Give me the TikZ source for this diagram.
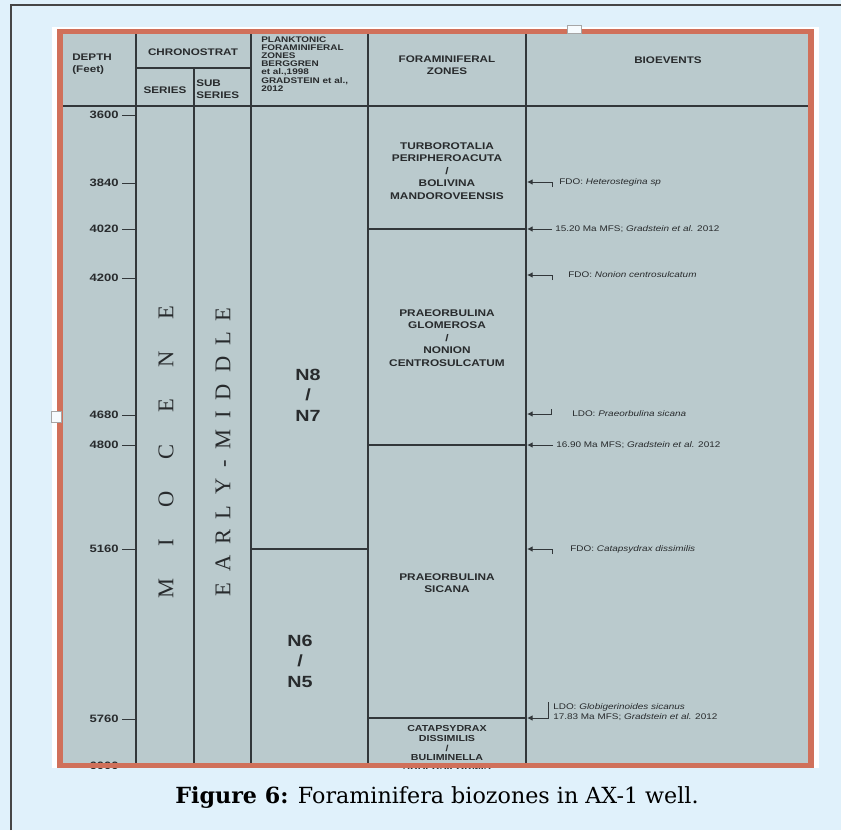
\documentclass[tikz,border=0pt]{standalone}
\usepackage{fontspec}
\usetikzlibrary{arrows.meta, positioning}
\newfontfamily\tabfont{Liberation Sans}[FakeStretch=1.22]
\newfontfamily\letterfont{Liberation Serif}
\newfontfamily\capfont{DejaVu Serif}
\definecolor{pagebg}{RGB}{224,241,251}
\definecolor{framecol}{RGB}{70,70,70}
\definecolor{chartbg}{RGB}{186,202,205}
\definecolor{rimcol}{RGB}{208,112,90}
\definecolor{gridcol}{RGB}{50,55,58}
\definecolor{inkcol}{RGB}{40,43,45}
\tikzset{
  gridline/.style={gridcol, line width=0.9pt},
  tickline/.style={gridcol, line width=0.7pt},
  evarrow/.style={-{Latex[length=4pt,width=4pt]}, gridcol, line width=0.7pt},
  headtext/.style={
    font=\tabfont\bfseries\fontsize{6.8}{8.6}\selectfont, text=inkcol,
    align=center, inner sep=0pt
  },
  smallhead/.style={
    font=\tabfont\bfseries\fontsize{5.8}{5.8}\selectfont, text=inkcol,
    align=left, inner sep=0pt, anchor=west
  },
  zonetext/.style={
    font=\tabfont\bfseries\fontsize{6.9}{8.9}\selectfont, text=inkcol,
    align=center, inner sep=0pt
  },
  nzone/.style={
    font=\tabfont\bfseries\fontsize{11.5}{14.6}\selectfont, text=inkcol,
    align=center, inner sep=0pt
  },
  depthlabel/.style={
    font=\tabfont\bfseries\fontsize{7.6}{9}\selectfont, text=inkcol,
    anchor=east, inner sep=0pt
  },
  eventtext/.style={
    font=\tabfont\fontsize{5.8}{6.6}\selectfont, text=inkcol,
    align=left, anchor=west, inner sep=0pt
  },
  stackletters/.style={
    font=\letterfont\fontsize{16}{16}\selectfont, text=inkcol,
    rotate=90, inner sep=0pt
  },
  handlebox/.style={draw=gray!70, fill=white!70!pagebg, line width=0.4pt},
}
\begin{document}
\begin{tikzpicture}[x=0.025cm, y=-0.025cm]
  \useasboundingbox (0,0) rectangle (841,830);

  % ── Page ──
  \fill[pagebg] (0,0) rectangle (841,830);
  \draw[framecol, line width=0.9pt] (11,830) -- (11,5) -- (841,5);

  % ── Chart panel ──
  \fill[white] (52,27) rectangle (819,768);
  \fill[chartbg] (58,30) rectangle (812,768);

  \begin{scope}
    \clip (58,30) rectangle (812,768);

    % ── Grid ──
    \draw[gridline] (136,33) -- (136,768);
    \draw[gridline] (194,68) -- (194,768);
    \draw[gridline] (251,33) -- (251,768);
    \draw[gridline] (368,33) -- (368,768);
    \draw[gridline] (526,33) -- (526,768);
    \draw[gridline] (136,68) -- (251,68);
    \draw[gridline] (63,106) -- (809,106);
    \draw[gridline] (251,549) -- (368,549);
    \draw[gridline] (368,229) -- (526,229);
    \draw[gridline] (368,445) -- (526,445);
    \draw[gridline] (368,718) -- (526,718);

    % ── Header ──
    \node[headtext, align=left, anchor=west] (depthhead) at (72,64) {DEPTH\\(Feet)};
    \node[headtext] (chronohead) at (193,52) {CHRONOSTRAT};
    \node[headtext] (serieshead) at (165,90) {SERIES};
    \node[headtext, align=left, anchor=west] (subhead) at (196,89) {SUB\\SERIES};
    \node[smallhead] (planktohead) at (261,64)
      {PLANKTONIC\\FORAMINIFERAL\\ZONES\\BERGGREN\\et al.,1998\\GRADSTEIN et al.,\\2012};
    \node[headtext] (zonehead) at (447,65) {FORAMINIFERAL\\ZONES};
    \node[headtext] (eventhead) at (668,60) {BIOEVENTS};

    % ── Depth scale ──
    \node[depthlabel] (d3600) at (119,115) {3600};
    \node[depthlabel] (d3840) at (119,183) {3840};
    \node[depthlabel] (d4020) at (119,229) {4020};
    \node[depthlabel] (d4200) at (119,278) {4200};
    \node[depthlabel] (d4680) at (119,415) {4680};
    \node[depthlabel] (d4800) at (119,445) {4800};
    \node[depthlabel] (d5160) at (119,549) {5160};
    \node[depthlabel] (d5760) at (119,719) {5760};
    \node[depthlabel] (d6000) at (119,766) {6000};
    \draw[tickline] (d3600.east) ++(3,0) -- ++(14,0);
    \draw[tickline] (d3840.east) ++(3,0) -- ++(14,0);
    \draw[tickline] (d4020.east) ++(3,0) -- ++(14,0);
    \draw[tickline] (d4200.east) ++(3,0) -- ++(14,0);
    \draw[tickline] (d4680.east) ++(3,0) -- ++(14,0);
    \draw[tickline] (d4800.east) ++(3,0) -- ++(14,0);
    \draw[tickline] (d5160.east) ++(3,0) -- ++(14,0);
    \draw[tickline] (d5760.east) ++(3,0) -- ++(14,0);
    \draw[tickline] (d6000.east) ++(3,0) -- ++(14,0);

    % ── Series / sub series ──
    \node[stackletters] (series) at (166,452)
      {M\hspace{1.41em}I\hspace{1.41em}O\hspace{1.41em}C\hspace{1.41em}E\hspace{1.41em}N\hspace{1.41em}E};
    \node[stackletters] (subseries) at (223,452)
      {E\hspace{0.48em}A\hspace{0.48em}R\hspace{0.48em}L\hspace{0.48em}Y\hspace{0.48em}-\hspace{0.48em}M\hspace{0.48em}I\hspace{0.48em}D\hspace{0.48em}D\hspace{0.48em}L\hspace{0.48em}E};

    % ── Planktonic zones ──
    \node[nzone] (n8n7) at (308,395) {N8\\/\\N7};
    \node[nzone] (n6n5) at (300,661) {N6\\/\\N5};

    % ── Foraminiferal zones ──
    \node[zonetext] (zoneA) at (447,171)
      {TURBOROTALIA\\PERIPHEROACUTA\\/\\BOLIVINA\\MANDOROVEENSIS};
    \node[zonetext] (zoneB) at (447,338)
      {PRAEORBULINA\\GLOMEROSA\\/\\NONION\\CENTROSULCATUM};
    \node[zonetext] (zoneC) at (447,583) {PRAEORBULINA\\SICANA};
    \node[zonetext, font=\tabfont\bfseries\fontsize{6.2}{7.1}\selectfont] (zoneD) at (447,748)
      {CATAPSYDRAX\\DISSIMILIS\\/\\BULIMINELLA\\SUBFUSIFORMIS};

    % ── Bioevents ──
    \coordinate (e3840) at (527,182);
    \coordinate (e4020) at (527,229);
    \coordinate (e4200) at (527,275);
    \coordinate (e4680) at (527,414);
    \coordinate (e4800) at (527,445);
    \coordinate (e5160) at (527,549);
    \coordinate (e5760) at (527,718);

    \node[eventtext] (ev3840) at (559,182) {FDO: \textit{Heterostegina sp}};
    \node[eventtext] (ev4020) at (555,229) {15.20 Ma MFS; \textit{Gradstein et al.} 2012};
    \node[eventtext] (ev4200) at (568,275) {FDO: \textit{Nonion centrosulcatum}};
    \node[eventtext] (ev4680) at (572,414) {LDO: \textit{Praeorbulina sicana}};
    \node[eventtext] (ev4800) at (556,445) {16.90 Ma MFS; \textit{Gradstein et al.} 2012};
    \node[eventtext] (ev5160) at (570,549) {FDO: \textit{Catapsydrax dissimilis}};
    \node[eventtext] (ev5760) at (553,712)
      {LDO: \textit{Globigerinoides sicanus}\\17.83 Ma MFS; \textit{Gradstein et al.} 2012};

    \draw[evarrow] ([shift={(25,5)}]e3840) |- (e3840);
    \draw[evarrow] ([xshift=-2pt]ev4020.west) -- (e4020);
    \draw[evarrow] ([shift={(25,5)}]e4200) |- (e4200);
    \draw[evarrow] ([shift={(24,-5)}]e4680) |- (e4680);
    \draw[evarrow] ([xshift=-2pt]ev4800.west) -- (e4800);
    \draw[evarrow] ([shift={(25,5)}]e5160) |- (e5160);
    \draw[evarrow] ([shift={(21,-16)}]e5760) |- (e5760);
  \end{scope}

  % ── Rim and handles ──
  \draw[rimcol, line width=4pt] (60,31.5) rectangle (811,765.5);
  \node[handlebox, minimum width=10pt, minimum height=6pt, inner sep=0pt] (handletop) at (574,29.5) {};
  \node[handlebox, minimum width=7pt, minimum height=8pt, inner sep=0pt] (handleleft) at (56.5,417) {};

  % ── Caption ──
  \node[font=\capfont\fontsize{15.8}{18}\selectfont, text=black] (caption) at (437,798)
    {\textbf{Figure 6:} Foraminifera biozones in AX-1 well.};

\end{tikzpicture}
\end{document}
